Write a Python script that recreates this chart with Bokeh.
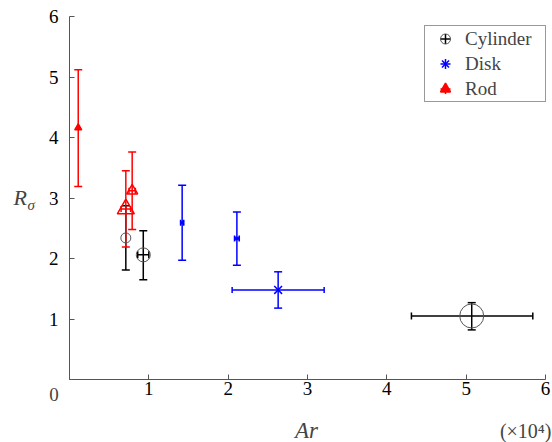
from bokeh.plotting import figure
from bokeh.models import (ColumnDataSource, Whisker, TeeHead, Label, Legend,
                          LegendItem, Range1d, FixedTicker)
from bokeh.embed import file_html
from bokeh.resources import INLINE

# ---------------- data (Ar in units of 10^4) ----------------
cyl_ar = [0.71, 0.93, 5.07]
cyl_r = [2.34, 2.06, 1.05]
cyl_r_lo = [1.81, 1.65, 0.82]
cyl_r_hi = [2.87, 2.46, 1.27]
cyl_ar_lo = [0.71, 0.86, 4.31]
cyl_ar_hi = [0.71, 1.00, 5.84]

disk_ar = [1.42, 2.11, 2.63]
disk_r = [2.59, 2.33, 1.48]
disk_r_lo = [1.97, 1.89, 1.18]
disk_r_hi = [3.21, 2.77, 1.78]
disk_ar_lo = [1.40, 2.08, 2.05]
disk_ar_hi = [1.44, 2.14, 3.21]

rod_ar = [0.11, 0.71, 0.79]
rod_r = [4.16, 2.82, 3.12]
rod_r_lo = [3.19, 2.19, 2.48]
rod_r_hi = [5.12, 3.45, 3.76]
rod_ar_lo = [0.11, 0.65, 0.75]
rod_ar_hi = [0.11, 0.77, 0.83]

x_ticks = [0, 1, 2, 3, 4, 5, 6]
y_ticks = [0, 1, 2, 3, 4, 5, 6]
series_names = ["Cylinder", "Disk", "Rod"]

# ---------------- layout / styles ----------------
W, H = 552, 442
X0_PX, X6_PX = 69, 545        # pixel of Ar = 0 and Ar = 6
Y0_PX, Y6_PX = 379, 16        # pixel of R = 0 and R = 6 (from top)
ux = (X6_PX - X0_PX) / 6.0
uy = (Y0_PX - Y6_PX) / 6.0
x_range = Range1d(-X0_PX / ux, 6 + (W - X6_PX) / ux)
y_range = Range1d(-(H - Y0_PX) / uy, 6 + Y6_PX / uy)

FONT = "Liberation Serif"
BLACK, BLUE, RED = "#000000", "#0000ff", "#ff0000"
AXIS_GREY = "#555555"
cyl_sizes = [10, 14, 24]
disk_sizes = [5, 5, 11]
rod_sizes = [7, 17, 11]
rod_fill = [1.0, 0.0, 0.0]

p = figure(width=W, height=H, output_backend="svg", toolbar_location=None,
           x_range=x_range, y_range=y_range,
           min_border=0, min_border_left=0, min_border_right=0,
           min_border_top=0, min_border_bottom=0)
p.outline_line_color = None
p.grid.visible = False
p.background_fill_color = "white"
p.border_fill_color = "white"

for ax, ticks in ((p.xaxis, x_ticks), (p.yaxis, y_ticks)):
    ax.fixed_location = 0
    ax.bounds = (0, 6)
    ax.ticker = FixedTicker(ticks=ticks)
    ax.major_label_overrides = {0: ""}
    ax.major_tick_in = 5
    ax.major_tick_out = 0
    ax.minor_tick_line_color = None
    ax.axis_line_color = AXIS_GREY
    ax.major_tick_line_color = AXIS_GREY
    ax.major_label_text_font = FONT
    ax.major_label_text_font_size = "19px"
    ax.major_label_text_color = "black"
p.xaxis.major_label_standoff = 2
p.yaxis.major_label_standoff = 11


def add_errors(ar, r, lo, hi, alo, ahi, color, ycap, xcap):
    src_y = ColumnDataSource(dict(x=ar, lo=lo, hi=hi))
    p.add_layout(Whisker(source=src_y, base="x", lower="lo", upper="hi",
                         dimension="height", line_color=color, line_width=1.5,
                         lower_head=TeeHead(size=ycap, line_color=color, line_width=1.5),
                         upper_head=TeeHead(size=ycap, line_color=color, line_width=1.5)))
    keep = [i for i in range(len(ar)) if ahi[i] > alo[i]]
    src_x = ColumnDataSource(dict(y=[r[i] for i in keep],
                                  lo=[alo[i] for i in keep],
                                  hi=[ahi[i] for i in keep]))
    p.add_layout(Whisker(source=src_x, base="y", lower="lo", upper="hi",
                         dimension="width", line_color=color, line_width=1.5,
                         lower_head=TeeHead(size=xcap, line_color=color, line_width=1.5),
                         upper_head=TeeHead(size=xcap, line_color=color, line_width=1.5)))


add_errors(cyl_ar, cyl_r, cyl_r_lo, cyl_r_hi, cyl_ar_lo, cyl_ar_hi, BLACK, 8, 7)
add_errors(disk_ar, disk_r, disk_r_lo, disk_r_hi, disk_ar_lo, disk_ar_hi, BLUE, 8, 6)
add_errors(rod_ar, rod_r, rod_r_lo, rod_r_hi, rod_ar_lo, rod_ar_hi, RED, 8, 6)

cyl_src = ColumnDataSource(dict(x=cyl_ar, y=cyl_r, s=cyl_sizes))
r_cyl = p.scatter("x", "y", source=cyl_src, size="s", marker="circle",
                  fill_color=None, line_color=AXIS_GREY, line_width=1)
disk_src = ColumnDataSource(dict(x=disk_ar, y=disk_r, s=disk_sizes))
r_disk = p.scatter("x", "y", source=disk_src, size="s", marker="x",
                   line_color=BLUE, line_width=1.5)
rod_src = ColumnDataSource(dict(x=rod_ar, y=rod_r, s=rod_sizes, fa=rod_fill))
r_rod = p.scatter("x", "y", source=rod_src, size="s", marker="triangle",
                  fill_color=RED, fill_alpha="fa", line_color=RED, line_width=1.5)

# legend: error-bar crosses (hidden in plot, shown in legend) + series markers
leg_items = []
for name, color, src, rr in zip(series_names, (BLACK, BLUE, RED),
                                (cyl_src, disk_src, rod_src),
                                (r_cyl, r_disk, r_rod)):
    bar = p.scatter("x", "y", source=src, marker="cross", line_color=color,
                    line_width=1.5, visible=False)
    leg_items.append(LegendItem(label=name, renderers=[bar, rr], index=0))

legend = Legend(items=leg_items, location=(424, H - 102), padding=0, spacing=0,
                margin=0, glyph_width=40, glyph_height=25, label_height=25,
                label_width=80, label_standoff=0, label_text_font=FONT,
                label_text_font_size="19px", border_line_color="#333333",
                border_line_width=1, background_fill_color="white",
                background_fill_alpha=1.0, click_policy="none",
                inactive_fill_alpha=0.0)
p.add_layout(legend)

# texts (screen units relative to the bottom-left corner of the canvas-wide frame)
p.add_layout(Label(x=13, y=H - 197, x_units="screen", y_units="screen", text="R",
                   text_font=FONT, text_font_style="italic", text_font_size="22px",
                   text_baseline="alphabetic"))
p.add_layout(Label(x=27, y=H - 204, x_units="screen", y_units="screen", text="σ",
                   text_font=FONT, text_font_style="italic", text_font_size="15px",
                   text_baseline="alphabetic"))
p.add_layout(Label(x=306, y=H - 430, x_units="screen", y_units="screen", text="Ar",
                   text_font=FONT, text_font_style="italic", text_font_size="23px",
                   text_baseline="alphabetic", text_align="center"))
p.add_layout(Label(x=551, y=H - 430, x_units="screen", y_units="screen", text="(×10⁴)",
                   text_font=FONT, text_font_size="20px",
                   text_baseline="alphabetic", text_align="right"))
p.add_layout(Label(x=53.5, y=H - 394, x_units="screen", y_units="screen", text="0",
                   text_font=FONT, text_font_size="19px",
                   text_baseline="alphabetic", text_align="center"))

open("out.html", "w").write(file_html(p, INLINE))
